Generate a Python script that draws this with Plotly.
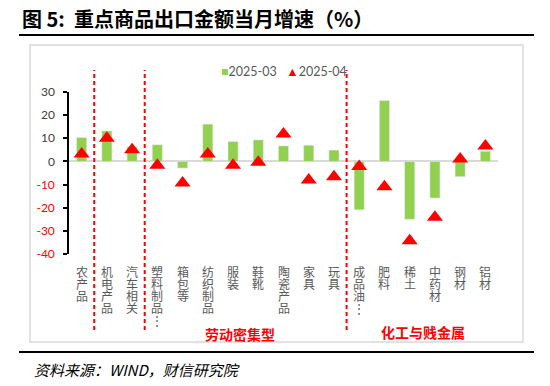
import plotly.graph_objects as go

categories = ["农产品", "机电产品", "汽车相关", "塑料制品⋮", "箱包等", "纺织制品", "服装", "鞋靴",
              "陶瓷产品", "家具", "玩具", "成品油⋮", "肥料", "稀土", "中药材", "钢材", "铝材"]
mar_2025 = [10.3, 13.2, 6.3, 7.2, -2.9, 16.1, 8.6, 9.3, 6.7, 7.0, 4.9, -20.9, 26.3, -25.0, -15.8, -6.6, 4.4]
apr_2025 = [3.2, 10.0, 5.0, -1.6, -9.3, 3.2, -1.6, -0.4, 11.8, -8.0, -6.6, -2.2, -10.9, -34.3, -24.1, 1.0, 6.7]
series_names = ["2025-03", "2025-04"]
y_ticks = [-40, -30, -20, -10, 0, 10, 20, 30]
divider_positions = [0.5, 2.5, 10.5]
group_labels = ["劳动密集型", "化工与贱金属"]

GREEN = "#92d050"
RED = "#ff0000"
GRAY = "#595959"
CJK = "Noto Sans CJK SC"

fig = go.Figure()
fig.add_trace(go.Bar(x=categories, y=mar_2025, name=series_names[0], marker_color=GREEN,
                     width=0.4, showlegend=False))
fig.add_trace(go.Scatter(x=categories, y=apr_2025, name=series_names[1], mode="markers",
                         marker=dict(symbol="triangle-up", size=14, color=RED),
                         showlegend=False))

tick_text = [f"<span style='color:{RED}'>{v}</span>" if v < 0 else str(v) for v in y_ticks]

fig.update_layout(
    width=550, height=386,
    margin=dict(l=69, r=52, t=92, b=132),
    paper_bgcolor="white", plot_bgcolor="white",
    font=dict(family=CJK, color=GRAY),
    bargap=0.6,
    xaxis=dict(type="category", showticklabels=False, showline=False, ticks="",
               showgrid=False, zeroline=False, range=[-0.5, len(categories) - 0.5]),
    yaxis=dict(range=[-40, 30], tickvals=y_ticks, ticktext=tick_text,
               tickfont=dict(family="Lato", size=12, color="#404040"),
               showline=True, linecolor="black", linewidth=1.5,
               ticks="outside", ticklen=4, tickcolor="black", tickwidth=1.5,
               ticklabelstandoff=6,
               showgrid=False, zeroline=True, zerolinecolor="#d9d9d9", zerolinewidth=2),
)

def px2paper_x(px):
    return (px - 69) / 429.0

def px2paper_y(py):
    return (254 - py) / 162.0

shapes = []
# outer chart frame
shapes.append(dict(type="rect", xref="paper", yref="paper",
                   x0=px2paper_x(30), x1=px2paper_x(523), y0=px2paper_y(342), y1=px2paper_y(45),
                   line=dict(color="#d9d9d9", width=1.5), layer="below"))
# title underline and footer line
for yy in (35, 352):
    shapes.append(dict(type="line", xref="paper", yref="paper",
                       x0=px2paper_x(19), x1=px2paper_x(534), y0=px2paper_y(yy), y1=px2paper_y(yy),
                       line=dict(color="black", width=2.2)))
# dashed red dividers
for d in divider_positions:
    shapes.append(dict(type="line", xref="x", yref="paper", x0=d, x1=d,
                       y0=px2paper_y(330), y1=px2paper_y(70),
                       line=dict(color=RED, width=2, dash="4px,3px")))
fig.update_layout(shapes=shapes)

ann = []
# vertical category labels, one character per line
for cat in categories:
    for j, ch in enumerate(cat):
        ann.append(dict(x=cat, y=0, xref="x", yref="paper", text=ch, showarrow=False,
                        yanchor="middle", xanchor="center", yshift=-17 - 12 * j,
                        font=dict(family=CJK, size=12, color=GRAY)))
# group labels
ann.append(dict(x=px2paper_x(240), y=px2paper_y(334), xref="paper", yref="paper",
                xanchor="center", yanchor="middle",
                text=f"<b>{group_labels[0]}</b>", showarrow=False,
                font=dict(family=CJK, size=14, color=RED)))
ann.append(dict(x=px2paper_x(423), y=px2paper_y(332), xref="paper", yref="paper",
                xanchor="center", yanchor="middle",
                text=f"<b>{group_labels[1]}</b>", showarrow=False,
                font=dict(family=CJK, size=14, color=RED)))
# legend
ann.append(dict(x=px2paper_x(219), y=px2paper_y(71), xref="paper", yref="paper",
                xanchor="left", yanchor="middle", showarrow=False,
                text=(f"<span style='color:{GREEN}'>■</span>{series_names[0]}   "
                      f"<span style='color:{RED}'>▲</span>{series_names[1]}"),
                font=dict(family="Lato", size=12.5, color=GRAY)))
# title
ann.append(dict(x=px2paper_x(20), y=px2paper_y(18), xref="paper", yref="paper",
                xanchor="left", yanchor="middle", showarrow=False,
                text="<b>图 5:  重点商品出口金额当月增速（%）</b>",
                font=dict(family=CJK, size=20, color="black")))
# source
ann.append(dict(x=px2paper_x(32), y=px2paper_y(369), xref="paper", yref="paper",
                xanchor="left", yanchor="middle", showarrow=False,
                text="<i>资料来源：WIND，财信研究院</i>",
                font=dict(family=CJK, size=15, color="black")))
fig.update_layout(annotations=ann)

fig.write_html("out.html", config={"displayModeBar": False},
               post_script="document.body.style.margin='0';")
